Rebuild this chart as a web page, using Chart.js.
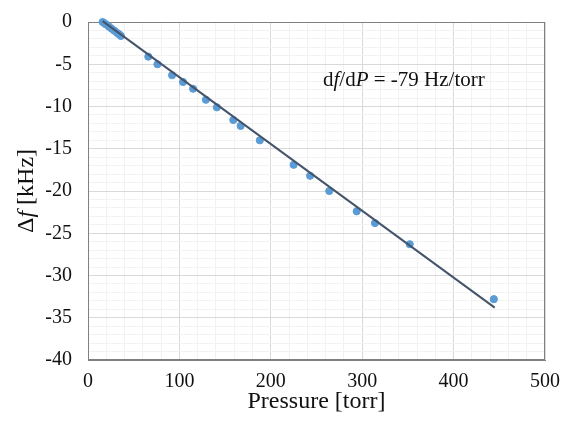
<!DOCTYPE html>
<html lang="en">
<head>
    <meta charset="UTF-8">
    <title>Frequency shift vs pressure</title>
    <script src="https://cdn.jsdelivr.net/npm/chart.js/dist/chart.umd.min.js"></script>
    <style>
        html, body { margin: 0; padding: 0; background: white; }
        .chartBox { position: relative; width: 568px; height: 427px; }
    </style>
</head>
<body>
    <div class="chartBox">
        <canvas id="myChart" width="568" height="427"></canvas>
    </div>

    <script>
        // measured points (pressure in torr, frequency shift in kHz)
        const pressure = [16, 18, 20, 23, 26, 29, 32, 34, 36, 66, 76, 92, 104, 115, 129, 141, 159, 167, 188, 225, 243, 264, 294, 314, 352, 444];
        const deltaF = [0, -0.15, -0.3, -0.55, -0.8, -1.05, -1.3, -1.45, -1.65, -4.1, -5.0, -6.3, -7.1, -7.9, -9.2, -10.1, -11.6, -12.3, -14.0, -16.9, -18.2, -20.0, -22.4, -23.8, -26.3, -32.8];

        // linear trend line end points
        const fitX = [16, 445];
        const fitY = [0.1, -33.8];

        const xTicks = [0, 100, 200, 300, 400, 500];
        const yTicks = [0, -5, -10, -15, -20, -25, -30, -35, -40];

        const serif = "'Liberation Serif', 'Times New Roman', serif";

        // plot frame + rotated y title + slope note
        const extras = {
            id: 'extras',
            beforeDatasetsDraw(chart) {
                const { ctx, chartArea: a } = chart;
                ctx.save();
                ctx.strokeStyle = '#808080';
                ctx.lineWidth = 1;
                ctx.strokeRect(a.left + 0.5, a.top + 0.5, a.right - a.left - 1, a.bottom - a.top - 1);
                ctx.restore();
            },
            afterDraw(chart) {
                const { ctx, chartArea: a } = chart;
                ctx.save();
                // y title: Δf [kHz]
                ctx.fillStyle = '#111';
                ctx.textBaseline = 'middle';
                ctx.translate(27, (a.top + a.bottom) / 2);
                ctx.rotate(-Math.PI / 2);
                const parts = [['Δ', ''], ['f', 'italic '], [' [kHz]', '']];
                let w = 0;
                parts.forEach(p => { ctx.font = p[1] + '24px ' + serif; w += ctx.measureText(p[0]).width; });
                let x = -w / 2;
                parts.forEach(p => {
                    ctx.font = p[1] + '24px ' + serif;
                    ctx.fillText(p[0], x, 0);
                    x += ctx.measureText(p[0]).width;
                });
                ctx.restore();

                // slope note
                ctx.save();
                ctx.fillStyle = '#111';
                ctx.textBaseline = 'middle';
                const note = [['d', ''], ['f', 'italic '], ['/d', ''], ['P', 'italic '], [' = -79 Hz/torr', '']];
                let nx = 323;
                note.forEach(p => {
                    ctx.font = p[1] + '21px ' + serif;
                    ctx.fillText(p[0], nx, 80);
                    nx += ctx.measureText(p[0]).width;
                });
                ctx.restore();
            }
        };

        const ctx = document.getElementById('myChart').getContext('2d');
        const myChart = new Chart(ctx, {
            type: 'scatter',
            data: {
                datasets: [{
                    label: 'fit',
                    data: fitX.map((v, i) => ({ x: v, y: fitY[i] })),
                    showLine: true,
                    borderColor: '#44546A',
                    borderWidth: 2,
                    pointRadius: 0,
                    clip: false,
                    order: 1
                }, {
                    label: 'data',
                    data: pressure.map((v, i) => ({ x: v, y: deltaF[i] })),
                    backgroundColor: '#5B9BD5',
                    borderColor: '#5B9BD5',
                    pointRadius: 3.6,
                    clip: false,
                    order: 2
                }]
            },
            options: {
                responsive: false,
                animation: false,
                layout: { padding: { top: 22, right: 23 } },
                plugins: { legend: { display: false }, tooltip: { enabled: false } },
                scales: {
                    x: {
                        min: 0, max: 500,
                        afterFit: s => { s.height = 67; s.paddingLeft = 0; s.paddingRight = 0; },
                        afterBuildTicks: s => {
                            const t = [];
                            for (let v = 0; v <= 500; v += 20) t.push({ value: v });
                            s.ticks = t;
                        },
                        ticks: {
                            autoSkip: false, maxRotation: 0, padding: 10,
                            color: '#111',
                            font: { family: serif, size: 20 },
                            callback: v => xTicks.includes(v) ? String(v) : ''
                        },
                        grid: {
                            drawTicks: false,
                            color: c => (c.tick && c.tick.value % 100 === 0) ? '#d9d9d9' : '#f2f2f2'
                        },
                        border: { color: '#808080' },
                        title: {
                            display: true, text: 'Pressure [torr]', color: '#111',
                            font: { family: serif, size: 24 }, padding: { top: 0, bottom: 11 }
                        }
                    },
                    y: {
                        min: -40, max: 0,
                        afterFit: s => { s.width = 88; s.paddingTop = 0; s.paddingBottom = 0; },
                        afterBuildTicks: s => {
                            const t = [];
                            for (let v = -40; v <= 0; v += 1) t.push({ value: v });
                            s.ticks = t;
                        },
                        ticks: {
                            autoSkip: false, padding: 16,
                            color: '#111',
                            font: { family: serif, size: 20 },
                            callback: v => yTicks.includes(v) ? String(v) : ''
                        },
                        grid: {
                            drawTicks: false,
                            color: c => (c.tick && c.tick.value % 5 === 0) ? '#d9d9d9' : '#f2f2f2'
                        },
                        border: { color: '#808080' }
                    }
                }
            },
            plugins: [extras]
        });
    </script>
</body>
</html>
